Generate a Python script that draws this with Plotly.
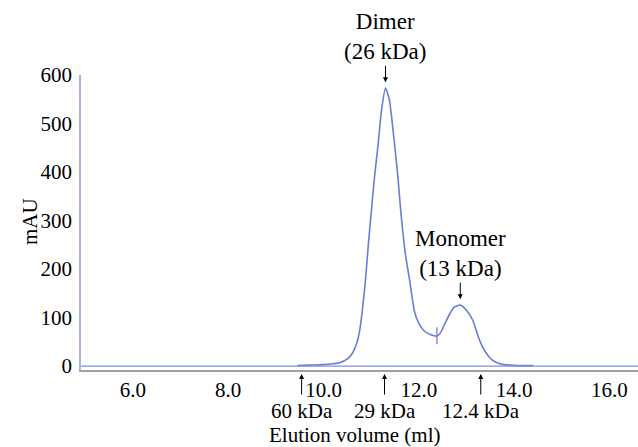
import plotly.graph_objects as go

# Chromatogram (elution volume in ml, absorbance in mAU)
elution_ml = [9.45, 9.72, 10.0, 10.2, 10.34, 10.5, 10.61, 10.70, 10.76, 10.82,
              10.88, 10.94, 11.00, 11.07, 11.14, 11.22, 11.30, 11.38, 11.49, 11.56,
              11.63, 11.72, 11.81, 11.91, 12.0, 12.1, 12.2, 12.3, 12.38, 12.45,
              12.55, 12.65, 12.75, 12.87, 13.0, 13.13, 13.25, 13.34, 13.45, 13.55,
              13.7, 13.9, 14.1, 14.4]
absorbance_mau = [1, 2, 3, 5, 7, 15, 27, 48, 74, 120,
                  177, 250, 315, 390, 452, 530, 573, 550, 458, 390,
                  310, 230, 175, 112, 88, 74, 67, 63, 62, 68,
                  88, 108, 122, 126, 115, 95, 60, 39, 22, 12,
                  5, 2, 1, 1]

x_tick_vals = [6, 8, 10, 12, 14, 16]
x_tick_text = ["6.0", "8.0", "10.0", "12.0", "14.0", "16.0"]
y_tick_vals = [0, 100, 200, 300, 400, 500, 600]

# Molecular weight standards
marker_ml = [9.54, 11.28, 13.30]
marker_labels = ["60 kDa", "29 kDa", "12.4 kDa"]

# Peak annotations
peak_ml = [11.30, 12.87]
peak_mau = [573, 126]
peak_labels = ["Dimer<br>(26 kDa)", "Monomer<br>(13 kDa)"]
valley_ml = 12.38

FONT = "Liberation Serif, Times New Roman, serif"
W, H = 638, 447
L, R, T, B = 81, 0, 75, 77
PH = H - T - B


def py(px):
    """pixel y -> paper y"""
    return (H - B - px) / PH


def px_x(px):
    return (px - L) / (W - L - R)


fig = go.Figure()
fig.add_trace(go.Scatter(
    x=elution_ml, y=absorbance_mau, mode="lines",
    line=dict(color="#6a7dd4", width=1.6, shape="spline", smoothing=0.5),
    hoverinfo="skip", showlegend=False))

# baseline
fig.add_hline(y=0, line=dict(color="#7f90d8", width=1.2))
# fraction mark at valley
fig.add_shape(type="line", xref="x", yref="y", x0=valley_ml, x1=valley_ml,
              y0=45, y1=80, line=dict(color="#6a7dd4", width=1.2))

ann = []
# peak labels and down arrows
for xm, ym, lab in zip(peak_ml, peak_mau, peak_labels):
    ann.append(dict(x=xm, y=ym + 12, xref="x", yref="y", text="", showarrow=True,
                    ax=0, ay=-18, arrowhead=2, arrowsize=1, arrowwidth=1,
                    arrowcolor="black"))
    ann.append(dict(x=xm, y=ym + 12, xref="x", yref="y", text=lab, showarrow=False,
                    yshift=16, yanchor="bottom", align="center",
                    font=dict(family=FONT, size=23, color="black")))

# standards: up arrows below the axis and labels
for xm, lab in zip(marker_ml, marker_labels):
    ann.append(dict(x=xm, y=py(374), xref="x", yref="paper", text="",
                    showarrow=True, ax=0, ay=22, arrowhead=2, arrowsize=1,
                    arrowwidth=1, arrowcolor="black"))
    ann.append(dict(x=xm, y=py(411), xref="x", yref="paper", text=lab,
                    showarrow=False, yanchor="middle",
                    font=dict(family=FONT, size=21, color="black")))

# axis titles
ann.append(dict(x=px_x(354), xref="paper", y=py(435), yref="paper",
                text="Elution volume (ml)", showarrow=False, yanchor="middle",
                xanchor="center", font=dict(family=FONT, size=21, color="black")))
ann.append(dict(x=px_x(30), xref="paper", y=py(222), yref="paper", text="mAU",
                textangle=-90, showarrow=False, xanchor="center", yanchor="middle",
                font=dict(family=FONT, size=21, color="black")))
fig.update_layout(annotations=ann)

fig.update_layout(
    width=W, height=H,
    margin=dict(l=L, r=R, t=T, b=B, pad=0),
    paper_bgcolor="white", plot_bgcolor="white",
    font=dict(family=FONT, size=20, color="black"),
    xaxis=dict(range=[4.91, 16.6], tickvals=x_tick_vals, ticktext=x_tick_text,
               showline=True, linecolor="#a0a0a0", linewidth=1.5,
               showgrid=False, zeroline=False, ticks="", ticklabelstandoff=0,
               tickfont=dict(size=21)),
    yaxis=dict(range=[-8, 600], tickvals=y_tick_vals,
               showline=True, linecolor="#aab3dc", linewidth=1.5,
               showgrid=False, zeroline=False, ticks="", ticklabelstandoff=3,
               tickfont=dict(size=21)),
)

fig.write_html("out.html", config={"displayModeBar": False},
               post_script="document.body.style.margin='0';document.body.style.padding='0';")
